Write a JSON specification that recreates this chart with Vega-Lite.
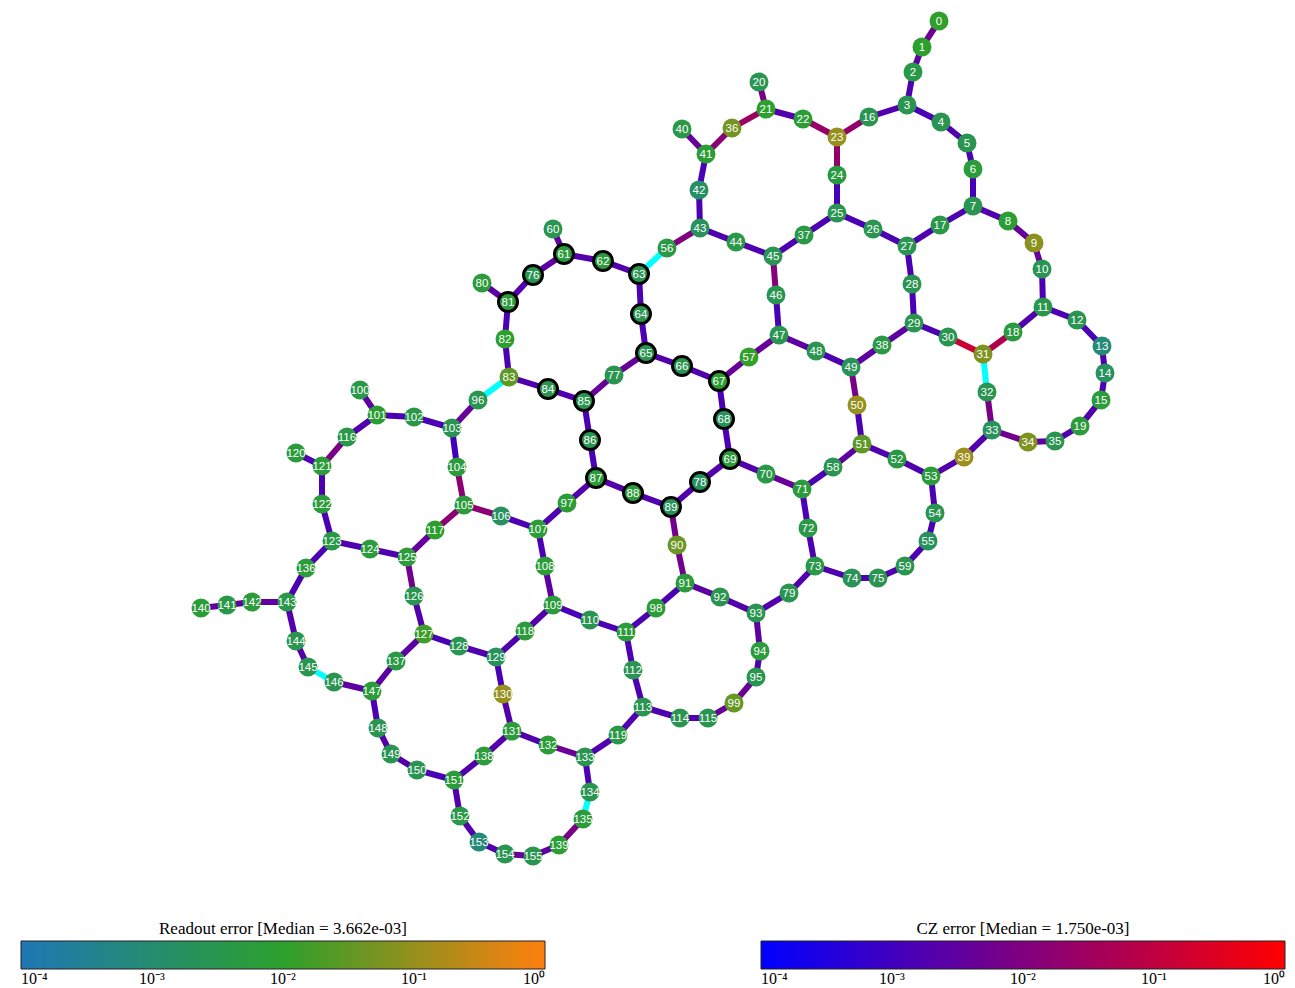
{
"$schema":"https://vega.github.io/schema/vega-lite/v6.json",
"width":1295,"height":988,"padding":0,"autosize":{"type":"none"},
"background":"white",
"config":{"view":{"stroke":null},
"legend":{"orient":"none","direction":"horizontal","gradientLength":524,"gradientThickness":28,"padding":0,"titlePadding":3,"titleAnchor":"middle","titleFont":"Liberation Serif","titleFontSize":17,"titleFontWeight":"normal","titleColor":"black","titleLimit":0,"labelFont":"Liberation Serif","labelFontSize":16,"labelColor":"black","labelOffset":6,"labelLimit":0,"gradientStrokeColor":"#222","gradientStrokeWidth":1,"labelOverlap":false}},
"datasets":{
"nodes":[
{"id":0,"x":939,"y":21,"readout":0.011},{"id":1,"x":922,"y":47,"readout":0.01},{"id":2,"x":913,"y":72,"readout":0.004},{"id":3,"x":907,"y":105,"readout":0.003},{"id":4,"x":941,"y":122,"readout":0.003},{"id":5,"x":967,"y":143,"readout":0.003},{"id":6,"x":973,"y":169,"readout":0.006},{"id":7,"x":973,"y":206,"readout":0.003},{"id":8,"x":1008,"y":221,"readout":0.008},{"id":9,"x":1034,"y":243,"readout":0.08},
{"id":10,"x":1042,"y":269,"readout":0.0028},{"id":11,"x":1043,"y":307,"readout":0.0035},{"id":12,"x":1077,"y":320,"readout":0.003},{"id":13,"x":1102,"y":346,"readout":0.0008},{"id":14,"x":1105,"y":373,"readout":0.0018},{"id":15,"x":1101,"y":400,"readout":0.006},{"id":16,"x":869,"y":117,"readout":0.003},{"id":17,"x":940,"y":225,"readout":0.004},{"id":18,"x":1013,"y":332,"readout":0.005},{"id":19,"x":1080,"y":426,"readout":0.006},
{"id":20,"x":759,"y":82,"readout":0.003},{"id":21,"x":766,"y":109,"readout":0.01},{"id":22,"x":803,"y":119,"readout":0.007},{"id":23,"x":837,"y":137,"readout":0.1},{"id":24,"x":837,"y":175,"readout":0.005},{"id":25,"x":837,"y":213,"readout":0.003},{"id":26,"x":873,"y":229,"readout":0.003},{"id":27,"x":907,"y":246,"readout":0.003},{"id":28,"x":912,"y":284,"readout":0.003},{"id":29,"x":914,"y":323,"readout":0.003},
{"id":30,"x":948,"y":337,"readout":0.003},{"id":31,"x":983,"y":354,"readout":0.06},{"id":32,"x":987,"y":392,"readout":0.003},{"id":33,"x":992,"y":430,"readout":0.002},{"id":34,"x":1028,"y":442,"readout":0.06},{"id":35,"x":1055,"y":441,"readout":0.003},{"id":36,"x":732,"y":128,"readout":0.05},{"id":37,"x":804,"y":235,"readout":0.004},{"id":38,"x":882,"y":345,"readout":0.004},{"id":39,"x":964,"y":457,"readout":0.12},
{"id":40,"x":682,"y":129,"readout":0.004},{"id":41,"x":706,"y":154,"readout":0.007},{"id":42,"x":699,"y":190,"readout":0.0015},{"id":43,"x":700,"y":228,"readout":0.002},{"id":44,"x":736,"y":242,"readout":0.004},{"id":45,"x":773,"y":256,"readout":0.003},{"id":46,"x":776,"y":295,"readout":0.003},{"id":47,"x":779,"y":335,"readout":0.003},{"id":48,"x":816,"y":351,"readout":0.003},{"id":49,"x":851,"y":367,"readout":0.0022},
{"id":50,"x":857,"y":405,"readout":0.1},{"id":51,"x":862,"y":444,"readout":0.03},{"id":52,"x":897,"y":459,"readout":0.004},{"id":53,"x":931,"y":476,"readout":0.006},{"id":54,"x":935,"y":513,"readout":0.003},{"id":55,"x":928,"y":541,"readout":0.002},{"id":56,"x":667,"y":248,"readout":0.004},{"id":57,"x":749,"y":357,"readout":0.012},{"id":58,"x":833,"y":467,"readout":0.003},{"id":59,"x":905,"y":566,"readout":0.003},
{"id":60,"x":553,"y":229,"readout":0.003},{"id":61,"x":564,"y":254,"readout":0.006},{"id":62,"x":603,"y":261,"readout":0.006},{"id":63,"x":639,"y":274,"readout":0.003},{"id":64,"x":641,"y":314,"readout":0.003},{"id":65,"x":646,"y":353,"readout":0.003},{"id":66,"x":682,"y":366,"readout":0.003},{"id":67,"x":719,"y":381,"readout":0.008},{"id":68,"x":724,"y":419,"readout":0.002},{"id":69,"x":730,"y":459,"readout":0.006},
{"id":70,"x":766,"y":474,"readout":0.004},{"id":71,"x":802,"y":489,"readout":0.006},{"id":72,"x":808,"y":528,"readout":0.004},{"id":73,"x":815,"y":566,"readout":0.004},{"id":74,"x":852,"y":578,"readout":0.0025},{"id":75,"x":878,"y":578,"readout":0.003},{"id":76,"x":533,"y":275,"readout":0.003},{"id":77,"x":614,"y":375,"readout":0.003},{"id":78,"x":700,"y":482,"readout":0.0018},{"id":79,"x":789,"y":593,"readout":0.003},
{"id":80,"x":482,"y":283,"readout":0.006},{"id":81,"x":508,"y":302,"readout":0.006},{"id":82,"x":505,"y":339,"readout":0.009},{"id":83,"x":509,"y":377,"readout":0.03},{"id":84,"x":548,"y":389,"readout":0.003},{"id":85,"x":584,"y":401,"readout":0.003},{"id":86,"x":590,"y":440,"readout":0.003},{"id":87,"x":596,"y":478,"readout":0.006},{"id":88,"x":633,"y":493,"readout":0.006},{"id":89,"x":671,"y":507,"readout":0.002},
{"id":90,"x":677,"y":545,"readout":0.04},{"id":91,"x":685,"y":583,"readout":0.006},{"id":92,"x":720,"y":597,"readout":0.003},{"id":93,"x":756,"y":613,"readout":0.003},{"id":94,"x":760,"y":651,"readout":0.006},{"id":95,"x":756,"y":677,"readout":0.003},{"id":96,"x":478,"y":400,"readout":0.003},{"id":97,"x":567,"y":503,"readout":0.007},{"id":98,"x":656,"y":608,"readout":0.007},{"id":99,"x":734,"y":703,"readout":0.035},
{"id":100,"x":360,"y":390,"readout":0.004},{"id":101,"x":377,"y":415,"readout":0.008},{"id":102,"x":414,"y":417,"readout":0.004},{"id":103,"x":452,"y":428,"readout":0.003},{"id":104,"x":457,"y":467,"readout":0.006},{"id":105,"x":464,"y":505,"readout":0.006},{"id":106,"x":501,"y":516,"readout":0.0018},{"id":107,"x":538,"y":529,"readout":0.007},{"id":108,"x":545,"y":566,"readout":0.007},{"id":109,"x":553,"y":605,"readout":0.006},
{"id":110,"x":590,"y":620,"readout":0.003},{"id":111,"x":626,"y":632,"readout":0.006},{"id":112,"x":633,"y":670,"readout":0.003},{"id":113,"x":643,"y":707,"readout":0.003},{"id":114,"x":680,"y":718,"readout":0.003},{"id":115,"x":708,"y":718,"readout":0.003},{"id":116,"x":347,"y":437,"readout":0.004},{"id":117,"x":435,"y":530,"readout":0.009},{"id":118,"x":525,"y":631,"readout":0.006},{"id":119,"x":618,"y":735,"readout":0.004},
{"id":120,"x":296,"y":453,"readout":0.006},{"id":121,"x":322,"y":466,"readout":0.006},{"id":122,"x":322,"y":504,"readout":0.006},{"id":123,"x":332,"y":541,"readout":0.004},{"id":124,"x":370,"y":549,"readout":0.006},{"id":125,"x":407,"y":557,"readout":0.006},{"id":126,"x":414,"y":596,"readout":0.003},{"id":127,"x":424,"y":634,"readout":0.015},{"id":128,"x":459,"y":646,"readout":0.003},{"id":129,"x":496,"y":657,"readout":0.002},
{"id":130,"x":503,"y":694,"readout":0.1},{"id":131,"x":512,"y":731,"readout":0.006},{"id":132,"x":548,"y":745,"readout":0.007},{"id":133,"x":585,"y":757,"readout":0.003},{"id":134,"x":590,"y":792,"readout":0.003},{"id":135,"x":583,"y":819,"readout":0.006},{"id":136,"x":306,"y":568,"readout":0.006},{"id":137,"x":396,"y":661,"readout":0.004},{"id":138,"x":484,"y":756,"readout":0.006},{"id":139,"x":559,"y":845,"readout":0.007},
{"id":140,"x":201,"y":608,"readout":0.007},{"id":141,"x":227,"y":605,"readout":0.004},{"id":142,"x":252,"y":602,"readout":0.006},{"id":143,"x":287,"y":602,"readout":0.004},{"id":144,"x":296,"y":641,"readout":0.003},{"id":145,"x":308,"y":667,"readout":0.003},{"id":146,"x":334,"y":682,"readout":0.003},{"id":147,"x":372,"y":691,"readout":0.006},{"id":148,"x":378,"y":728,"readout":0.003},{"id":149,"x":391,"y":754,"readout":0.003},
{"id":150,"x":417,"y":770,"readout":0.003},{"id":151,"x":454,"y":780,"readout":0.006},{"id":152,"x":460,"y":816,"readout":0.004},{"id":153,"x":479,"y":842,"readout":0.0008},{"id":154,"x":505,"y":854,"readout":0.003},{"id":155,"x":533,"y":856,"readout":0.003}
],
"edges":[
{"a":0,"b":1,"cz":0.005},{"a":1,"b":2,"cz":0.003},{"a":2,"b":3,"cz":0.0018},{"a":3,"b":4,"cz":0.0015},{"a":4,"b":5,"cz":0.0017},{"a":5,"b":6,"cz":0.0015},{"a":6,"b":7,"cz":0.0013},{"a":7,"b":8,"cz":0.0018},{"a":8,"b":9,"cz":0.004},{"a":9,"b":10,"cz":0.004},{"a":10,"b":11,"cz":0.0015},{"a":11,"b":12,"cz":0.0016},{"a":12,"b":13,"cz":0.0015},{"a":13,"b":14,"cz":0.0018},{"a":14,"b":15,"cz":0.0015},
{"a":3,"b":16,"cz":0.002},{"a":16,"b":23,"cz":0.02},{"a":7,"b":17,"cz":0.0018},{"a":17,"b":27,"cz":0.0017},{"a":11,"b":18,"cz":0.002},{"a":18,"b":31,"cz":0.06},{"a":15,"b":19,"cz":0.002},{"a":19,"b":35,"cz":0.0018},
{"a":20,"b":21,"cz":0.008},{"a":21,"b":22,"cz":0.002},{"a":22,"b":23,"cz":0.025},{"a":23,"b":24,"cz":0.02},{"a":24,"b":25,"cz":0.0012},{"a":25,"b":26,"cz":0.0015},{"a":26,"b":27,"cz":0.0015},{"a":27,"b":28,"cz":0.0015},{"a":28,"b":29,"cz":0.0015},{"a":29,"b":30,"cz":0.0016},{"a":30,"b":31,"cz":0.15},{"a":31,"b":32,"cz":null},{"a":32,"b":33,"cz":0.008},{"a":33,"b":34,"cz":0.006},{"a":34,"b":35,"cz":0.003},
{"a":21,"b":36,"cz":0.03},{"a":36,"b":41,"cz":0.015},{"a":25,"b":37,"cz":0.0016},{"a":37,"b":45,"cz":0.0017},{"a":29,"b":38,"cz":0.003},{"a":38,"b":49,"cz":0.003},{"a":33,"b":39,"cz":0.002},{"a":39,"b":53,"cz":0.002},
{"a":40,"b":41,"cz":0.004},{"a":41,"b":42,"cz":0.0015},{"a":42,"b":43,"cz":0.0015},{"a":43,"b":44,"cz":0.0017},{"a":44,"b":45,"cz":0.0017},{"a":45,"b":46,"cz":0.012},{"a":46,"b":47,"cz":0.0014},{"a":47,"b":48,"cz":0.003},{"a":48,"b":49,"cz":0.0016},{"a":49,"b":50,"cz":0.008},{"a":50,"b":51,"cz":0.0015},{"a":51,"b":52,"cz":0.0018},{"a":52,"b":53,"cz":0.0018},{"a":53,"b":54,"cz":0.0015},{"a":54,"b":55,"cz":0.0015},
{"a":43,"b":56,"cz":0.01},{"a":56,"b":63,"cz":null},{"a":47,"b":57,"cz":0.004},{"a":57,"b":67,"cz":0.004},{"a":51,"b":58,"cz":0.003},{"a":58,"b":71,"cz":0.0016},{"a":55,"b":59,"cz":0.0016},{"a":59,"b":75,"cz":0.0018},
{"a":60,"b":61,"cz":0.003},{"a":61,"b":62,"cz":0.002},{"a":62,"b":63,"cz":0.002},{"a":63,"b":64,"cz":0.0015},{"a":64,"b":65,"cz":0.0015},{"a":65,"b":66,"cz":0.002},{"a":66,"b":67,"cz":0.0018},{"a":67,"b":68,"cz":0.0015},{"a":68,"b":69,"cz":0.0015},{"a":69,"b":70,"cz":0.002},{"a":70,"b":71,"cz":0.004},{"a":71,"b":72,"cz":0.0015},{"a":72,"b":73,"cz":0.0016},{"a":73,"b":74,"cz":0.0017},{"a":74,"b":75,"cz":0.0016},
{"a":61,"b":76,"cz":0.003},{"a":76,"b":81,"cz":0.0018},{"a":65,"b":77,"cz":0.004},{"a":77,"b":85,"cz":0.004},{"a":69,"b":78,"cz":0.002},{"a":78,"b":89,"cz":0.002},{"a":73,"b":79,"cz":0.0018},{"a":79,"b":93,"cz":0.002},
{"a":80,"b":81,"cz":0.003},{"a":81,"b":82,"cz":0.0015},{"a":82,"b":83,"cz":0.0015},{"a":83,"b":84,"cz":0.0018},{"a":84,"b":85,"cz":0.0018},{"a":85,"b":86,"cz":0.0015},{"a":86,"b":87,"cz":0.0015},{"a":87,"b":88,"cz":0.002},{"a":88,"b":89,"cz":0.0018},{"a":89,"b":90,"cz":0.006},{"a":90,"b":91,"cz":0.006},{"a":91,"b":92,"cz":0.003},{"a":92,"b":93,"cz":0.002},{"a":93,"b":94,"cz":0.003},{"a":94,"b":95,"cz":0.0018},
{"a":83,"b":96,"cz":null},{"a":96,"b":103,"cz":0.004},{"a":87,"b":97,"cz":0.002},{"a":97,"b":107,"cz":0.0018},{"a":91,"b":98,"cz":0.0015},{"a":98,"b":111,"cz":0.0015},{"a":95,"b":99,"cz":0.005},{"a":99,"b":115,"cz":0.004},
{"a":100,"b":101,"cz":0.003},{"a":101,"b":102,"cz":0.0015},{"a":102,"b":103,"cz":0.0015},{"a":103,"b":104,"cz":0.0011},{"a":104,"b":105,"cz":0.015},{"a":105,"b":106,"cz":0.015},{"a":106,"b":107,"cz":0.0016},{"a":107,"b":108,"cz":0.0015},{"a":108,"b":109,"cz":0.003},{"a":109,"b":110,"cz":0.0014},{"a":110,"b":111,"cz":0.0016},{"a":111,"b":112,"cz":0.0016},{"a":112,"b":113,"cz":0.0016},{"a":113,"b":114,"cz":0.0018},{"a":114,"b":115,"cz":0.0018},
{"a":101,"b":116,"cz":0.0018},{"a":116,"b":121,"cz":0.008},{"a":105,"b":117,"cz":0.015},{"a":117,"b":125,"cz":0.004},{"a":109,"b":118,"cz":0.002},{"a":118,"b":129,"cz":0.0018},{"a":113,"b":119,"cz":0.0018},{"a":119,"b":133,"cz":0.0018},
{"a":120,"b":121,"cz":0.0018},{"a":121,"b":122,"cz":0.0016},{"a":122,"b":123,"cz":0.0015},{"a":123,"b":124,"cz":0.0018},{"a":124,"b":125,"cz":0.0018},{"a":125,"b":126,"cz":0.006},{"a":126,"b":127,"cz":0.002},{"a":127,"b":128,"cz":0.0016},{"a":128,"b":129,"cz":0.0018},{"a":129,"b":130,"cz":0.0015},{"a":130,"b":131,"cz":0.002},{"a":131,"b":132,"cz":0.0018},{"a":132,"b":133,"cz":0.005},{"a":133,"b":134,"cz":0.0015},{"a":134,"b":135,"cz":null},
{"a":123,"b":136,"cz":0.0016},{"a":136,"b":143,"cz":0.0015},{"a":127,"b":137,"cz":0.003},{"a":137,"b":147,"cz":0.003},{"a":131,"b":138,"cz":0.002},{"a":138,"b":151,"cz":0.002},{"a":135,"b":139,"cz":0.008},{"a":139,"b":155,"cz":0.003},
{"a":140,"b":141,"cz":0.003},{"a":141,"b":142,"cz":0.003},{"a":142,"b":143,"cz":0.003},{"a":143,"b":144,"cz":0.002},{"a":144,"b":145,"cz":0.002},{"a":145,"b":146,"cz":null},{"a":146,"b":147,"cz":0.003},{"a":147,"b":148,"cz":0.0016},{"a":148,"b":149,"cz":0.002},{"a":149,"b":150,"cz":0.002},{"a":150,"b":151,"cz":0.0014},{"a":151,"b":152,"cz":0.002},{"a":152,"b":153,"cz":0.002},{"a":153,"b":154,"cz":0.002},{"a":154,"b":155,"cz":0.004}
]},
"layer":[
{"data":{"name":"edges"},
"transform":[
{"filter":"!isValid(datum.cz)"},
{"lookup":"a","from":{"data":{"name":"nodes"},"key":"id","fields":["x","y"]},"as":["xa","ya"]},
{"lookup":"b","from":{"data":{"name":"nodes"},"key":"id","fields":["x","y"]},"as":["xb","yb"]}],
"mark":{"type":"rule","strokeWidth":6,"strokeCap":"butt","color":"#00ffff"},
"encoding":{
"x":{"field":"xa","type":"quantitative","scale":{"domain":[0,1295],"nice":false,"zero":false},"axis":null},
"y":{"field":"ya","type":"quantitative","scale":{"domain":[0,988],"nice":false,"zero":false,"reverse":true},"axis":null},
"x2":{"field":"xb"},"y2":{"field":"yb"}}},
{"data":{"name":"edges"},
"transform":[
{"filter":"isValid(datum.cz)"},
{"lookup":"a","from":{"data":{"name":"nodes"},"key":"id","fields":["x","y"]},"as":["xa","ya"]},
{"lookup":"b","from":{"data":{"name":"nodes"},"key":"id","fields":["x","y"]},"as":["xb","yb"]}],
"mark":{"type":"rule","strokeWidth":6,"strokeCap":"butt"},
"encoding":{
"x":{"field":"xa","type":"quantitative"},
"y":{"field":"ya","type":"quantitative"},
"x2":{"field":"xb"},"y2":{"field":"yb"},
"stroke":{"field":"cz","type":"quantitative",
"scale":{"type":"log","domain":[0.0001,1],"range":["#0000ff","#ff0000"],"interpolate":"rgb"},
"legend":{"title":"CZ error [Median = 1.750e-03]","legendX":761,"legendY":921,"values":[0.0001,0.001,0.01,0.1,1],
"encode":{"labels":{"dx":{"signal":"datum.value < 0.00015 ? -13 : datum.value > 0.5 ? 10 : 0"}}},
"labelExpr":"'10' + (datum.value < 0.00015 ? '⁻⁴' : datum.value < 0.0015 ? '⁻³' : datum.value < 0.015 ? '⁻²' : datum.value < 0.15 ? '⁻¹' : '⁰')"}}}},
{"data":{"name":"nodes"},
"mark":{"type":"circle","opacity":1,"stroke":"black"},
"encoding":{
"x":{"field":"x","type":"quantitative"},
"y":{"field":"y","type":"quantitative"},
"size":{"value":360},
"strokeWidth":{"condition":{"test":"datum.id==61||datum.id==62||datum.id==63||datum.id==64||datum.id==65||datum.id==66||datum.id==67||datum.id==68||datum.id==69||datum.id==76||datum.id==78||datum.id==81||datum.id==84||datum.id==85||datum.id==86||datum.id==87||datum.id==88||datum.id==89","value":3},"value":0},
"fill":{"field":"readout","type":"quantitative",
"scale":{"type":"log","domain":[0.0001,0.01,1],"range":["#1f77b4","#2ca02c","#ff7f0e"],"interpolate":"rgb"},
"legend":{"title":"Readout error [Median = 3.662e-03]","legendX":21,"legendY":921,"values":[0.0001,0.001,0.01,0.1,1],
"encode":{"labels":{"dx":{"signal":"datum.value < 0.00015 ? -13 : datum.value > 0.5 ? 10 : 0"}}},
"labelExpr":"'10' + (datum.value < 0.00015 ? '⁻⁴' : datum.value < 0.0015 ? '⁻³' : datum.value < 0.015 ? '⁻²' : datum.value < 0.15 ? '⁻¹' : '⁰')"}}}},
{"data":{"name":"nodes"},
"mark":{"type":"text","color":"white","fontSize":11.5,"font":"Liberation Sans","baseline":"middle","align":"center","dy":0.5},
"encoding":{
"x":{"field":"x","type":"quantitative"},
"y":{"field":"y","type":"quantitative"},
"text":{"field":"id","type":"nominal"}}}
]
}
